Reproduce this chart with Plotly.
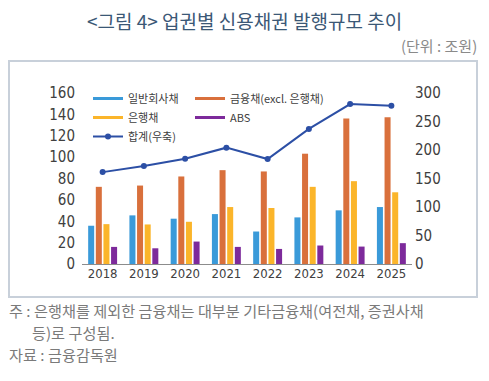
import plotly.graph_objects as go

W, H = 489, 381

years = ["2018", "2019", "2020", "2021", "2022", "2023", "2024", "2025"]
general_corp = [35.8, 45.5, 42.4, 46.7, 30.4, 43.6, 50.2, 53.3]
financial_excl_bank = [72.2, 73.4, 81.9, 87.8, 86.6, 103.2, 136.2, 137.4]
bank = [37.3, 37.0, 39.5, 53.3, 52.4, 72.2, 77.5, 67.1]
abs_bonds = [16.0, 14.7, 21.0, 16.0, 14.1, 17.3, 16.3, 19.5]
total = [161.2, 171.8, 184.7, 204.1, 184.1, 237.0, 280.6, 277.6]

series_names = ["일반회사채", "금융채(excl. 은행채)", "은행채", "ABS"]
line_name = "합계(우축)"
left_ticks = [0, 20, 40, 60, 80, 100, 120, 140, 160]
right_ticks = [0, 50, 100, 150, 200, 250, 300]

colors = ["#3a9ad9", "#d9703c", "#fbb52a", "#7d2a9b"]
line_color = "#2c4fa5"

def px_x(v):
    return v / W

def px_y(v):
    return 1 - v / H

TICK_FONT = "Liberation Sans Narrow, Arial Narrow, DejaVu Sans Condensed, sans-serif"
KR_FONT = "Noto Sans CJK KR, Noto Sans, sans-serif"

fig = go.Figure()
bar_values = [general_corp, financial_excl_bank, bank, abs_bonds]
for name, vals, c in zip(series_names, bar_values, colors):
    fig.add_trace(go.Bar(x=years, y=vals, name=name, marker=dict(color=c, line=dict(width=0)),
                         showlegend=False))

fig.add_trace(go.Scatter(x=years, y=total, name=line_name, yaxis="y2", mode="lines+markers",
                         line=dict(color=line_color, width=2), marker=dict(size=6, color=line_color),
                         showlegend=False))

# legend entries (line glyphs like the reference)
legend_map = {0: "legend", 2: "legend", 1: "legend2", 3: "legend2"}
for i in [0, 2, 1, 3]:
    fig.add_trace(go.Scatter(x=[None], y=[None], mode="lines", name=series_names[i],
                             line=dict(color=colors[i], width=3), legend=legend_map[i],
                             hoverinfo="skip"))
fig.add_trace(go.Scatter(x=[None], y=[None], mode="lines+markers", name=line_name,
                         line=dict(color=line_color, width=2), marker=dict(size=6, color=line_color),
                         legend="legend", hoverinfo="skip"))

FOOT = dict(family=KR_FONT, size=15.2, color="#7a7a7a")

fig.update_layout(
    template="none",
    width=W, height=H,
    margin=dict(l=0, r=0, t=0, b=0, pad=0, autoexpand=False),
    paper_bgcolor="white", plot_bgcolor="white",
    barmode="group", bargap=0.26, bargroupgap=0.21,
    xaxis=dict(domain=[px_x(82), px_x(412)], type="category", tickmode="array", tickvals=years,
               showline=True, linecolor="#8c8c8c", linewidth=1,
               showgrid=False, zeroline=False, ticks="", automargin=False, ticklabelstandoff=-3,
               tickfont=dict(family=TICK_FONT, size=13, color="#404040")),
    yaxis=dict(domain=[px_y(264), px_y(93)], range=[0, 160], tickvals=left_ticks, showgrid=False,
               zeroline=False, showline=False, ticks="", ticklabelstandoff=6, automargin=False,
               tickfont=dict(family=TICK_FONT, size=15, color="#404040")),
    yaxis2=dict(overlaying="y", side="right", range=[0, 300], tickvals=right_ticks, showgrid=False,
                zeroline=False, showline=False, ticks="", ticklabelstandoff=2, automargin=False,
                tickfont=dict(family=TICK_FONT, size=15, color="#404040")),
    legend=dict(x=px_x(88), y=px_y(84), xanchor="left", yanchor="top", tracegroupgap=0,
                bgcolor="rgba(0,0,0,0)", font=dict(family=KR_FONT, size=11, color="#404040"),
                traceorder="normal"),
    legend2=dict(x=px_x(190), y=px_y(84), xanchor="left", yanchor="top", tracegroupgap=0,
                 bgcolor="rgba(0,0,0,0)", font=dict(family=KR_FONT, size=11, color="#404040"),
                 traceorder="normal"),
    shapes=[dict(type="rect", xref="paper", yref="paper", x0=px_x(9), x1=px_x(477),
                 y0=px_y(297), y1=px_y(61), line=dict(color="#c8d0da", width=2),
                 fillcolor="rgba(0,0,0,0)", layer="above")],
    annotations=[
        dict(text="<그림 4> 업권별 신용채권 발행규모 추이", x=px_x(244), y=px_y(20), xref="paper", yref="paper",
             xanchor="center", yanchor="middle", showarrow=False,
             font=dict(family=KR_FONT, size=19, color="#3b5876")),
        dict(text="(단위 : 조원)", x=px_x(479), y=px_y(45), xref="paper", yref="paper",
             xanchor="right", yanchor="middle", showarrow=False,
             font=dict(family=KR_FONT, size=15, color="#8a8a8a")),
        dict(text="주 : 은행채를 제외한 금융채는 대부분 기타금융채(여전채, 증권사채", x=px_x(8), y=px_y(310),
             xref="paper", yref="paper", xanchor="left", yanchor="middle", showarrow=False,
             borderpad=0, font=FOOT),
        dict(text="등)로 구성됨.", x=px_x(31), y=px_y(332),
             xref="paper", yref="paper", xanchor="left", yanchor="middle", showarrow=False,
             borderpad=0, font=FOOT),
        dict(text="자료 : 금융감독원", x=px_x(8), y=px_y(354),
             xref="paper", yref="paper", xanchor="left", yanchor="middle", showarrow=False,
             borderpad=0, font=FOOT),
    ],
)

fig.write_html("out.html", config={"displayModeBar": False},
               post_script="document.body.style.margin='0';")
